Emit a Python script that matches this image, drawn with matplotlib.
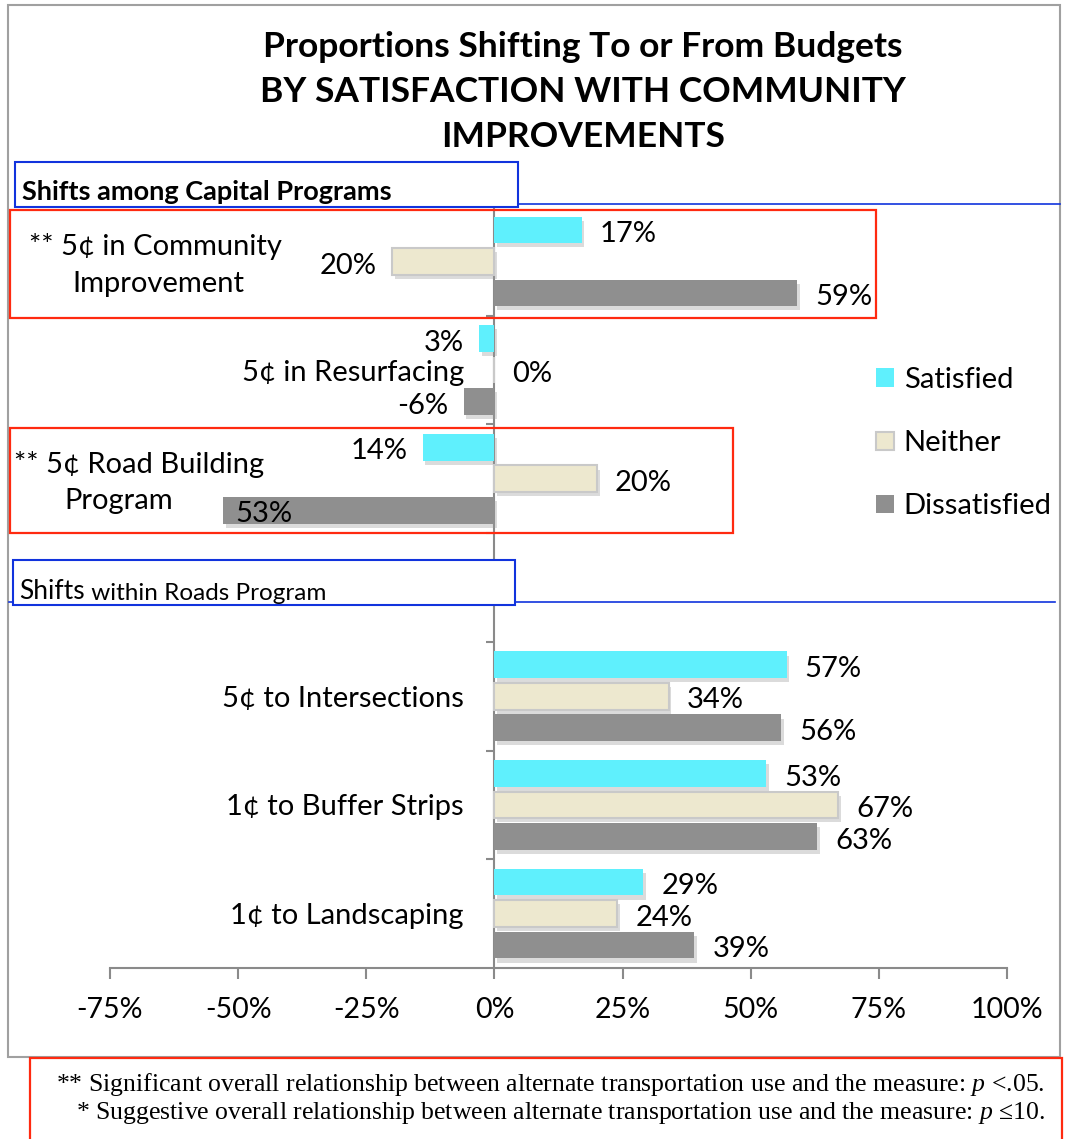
import numpy as np
import matplotlib
matplotlib.use("Agg")
import matplotlib.pyplot as plt
import matplotlib.patheffects as pe
import matplotlib.transforms as mtransforms
from matplotlib.patches import Rectangle, Patch
from matplotlib.lines import Line2D

plt.rcParams['font.family'] = ['Lato', 'DejaVu Sans']
plt.rcParams['mathtext.fontset'] = 'custom'
plt.rcParams['mathtext.it'] = 'Liberation Serif:italic'
plt.rcParams['mathtext.rm'] = 'Liberation Serif'

categories = ['** 5¢ in Community\nImprovement', '5¢ in Resurfacing',
              '** 5¢ Road Building\nProgram', '',
              '5¢ to Intersections', '1¢ to Buffer Strips', '1¢ to Landscaping']
satisfied = [17, -3, -14, np.nan, 57, 53, 29]
neither = [-20, 0, 20, np.nan, 34, 67, 24]
dissatisfied = [59, -6, -53, np.nan, 56, 63, 39]
satisfied_labels = ['17%', '3%', '14%', '', '57%', '53%', '29%']
neither_labels = ['20%', '0%', '20%', '', '34%', '67%', '24%']
dissatisfied_labels = ['59%', '-6%', '53%', '', '56%', '63%', '39%']
series_names = ['Satisfied', 'Neither', 'Dissatisfied']
xticks = [-75, -50, -25, 0, 25, 50, 75, 100]

W, H = 1065, 1139
FS = 21


def fx(x):
    return x / W


def fy(y):
    return 1 - y / H


fig = plt.figure(figsize=(W / 100, H / 100), dpi=100)
ax = fig.add_axes([fx(110), fy(968), fx(1007) - fx(110), fy(207) - fy(968)])

pos = np.arange(len(categories))
styles = [
    dict(color='#5ff0fd', edgecolor='none'),
    dict(color='#ede8cf', edgecolor='#c9c9c9', linewidth=1.5),
    dict(color='#8f8f8f', edgecolor='none'),
]
offsets = [-0.29, 0.0, 0.29]
shadow = [pe.SimplePatchShadow(offset=(2, -3), shadow_rgbFace='#9a9a9a', alpha=0.35), pe.Normal()]

for vals, labs, st, off in zip([satisfied, neither, dissatisfied],
                               [satisfied_labels, neither_labels, dissatisfied_labels],
                               styles, offsets):
    vals = np.array(vals, dtype=float)
    ok = ~np.isnan(vals)
    bars = ax.barh(pos[ok] + off, vals[ok], height=0.245, zorder=3, **st)
    for b in bars:
        b.set_path_effects(shadow)
    for y, v, t in zip(pos[ok], vals[ok], np.array(labs)[ok]):
        if v >= 0:
            xt, ha = 13, 'left'
        elif v > -40:
            xt, ha = -11, 'right'
        else:
            xt, ha = 9, 'left'
        ax.annotate(t, (v, y + off), xytext=(xt, -3), textcoords='offset points',
                    ha=ha, va='center', fontsize=FS, zorder=5)

ax.set_xlim(-75, 100)
ax.set_ylim(len(categories) - 0.5, -0.5)

axis_grey = '#8a8a8a'
for s in ['top', 'right']:
    ax.spines[s].set_visible(False)
ax.spines['left'].set_position(('data', 0))
ax.spines['left'].set_color(axis_grey)
ax.spines['left'].set_linewidth(1.5)
ax.spines['bottom'].set_color(axis_grey)
ax.spines['bottom'].set_linewidth(1.5)

ax.set_xticks(xticks)
ax.set_xticklabels([f'{t}%' for t in xticks], fontsize=20.5)
ax.tick_params(axis='x', length=8, width=1.5, color=axis_grey, pad=13)

ax.set_yticks(pos[:-1] + 0.5)
ax.set_yticklabels([])
ax.tick_params(axis='y', which='major', length=6, width=1.5, color=axis_grey)
ax.set_yticks(pos, minor=True)
ax.set_yticklabels([c if not c.startswith('**') else '' for c in categories], minor=True, fontsize=FS)
ax.tick_params(axis='y', which='minor', length=0, pad=22)

# starred category labels sit further left, one text per line
tr = mtransforms.blended_transform_factory(fig.transFigure, ax.transData)
for idx, centres in [(0, (155, 158)), (2, (139, 119))]:
    lines = categories[idx].split('\n')
    for k, (line, cx) in enumerate(zip(lines, centres)):
        ax.text(fx(cx), idx + 0.035 + (k - 0.5) * 0.34, line, transform=tr,
                ha='center', va='center', fontsize=FS)

# title
fig.text(fx(583), fy(92), 'Proportions Shifting To or From Budgets\nBY SATISFACTION WITH COMMUNITY\nIMPROVEMENTS',
         ha='center', va='center', fontsize=25.5, fontweight='bold', linespacing=1.5)

# legend
handles = [Patch(facecolor=styles[0]['color'], edgecolor='none'),
           Patch(facecolor=styles[1]['color'], edgecolor='#c9c9c9', linewidth=1.5),
           Patch(facecolor=styles[2]['color'], edgecolor='none')]
fig.legend(handles, series_names, loc='upper left', bbox_to_anchor=(fx(876), fy(367)),
           frameon=False, fontsize=FS, handlelength=0.6, handleheight=0.6,
           handletextpad=0.35, labelspacing=1.27, borderpad=0, borderaxespad=0)

# outer chart border
fig.add_artist(Rectangle((fx(8), fy(1057)), fx(1060) - fx(8), fy(5) - fy(1057),
                         fill=False, edgecolor='#a0a0a0', linewidth=1.5, zorder=6))

# section headers
blue = '#1133dd'
fig.add_artist(Line2D([fx(518), fx(1060)], [fy(204), fy(204)], color=blue, lw=1.2, zorder=6))
fig.add_artist(Rectangle((fx(15), fy(207)), fx(518) - fx(15), fy(162) - fy(207),
                         facecolor='white', edgecolor=blue, linewidth=1.5, zorder=7))
fig.text(fx(22), fy(192), 'Shifts among Capital Programs', ha='left', va='center',
         fontsize=19.5, fontweight='bold', zorder=8)

fig.add_artist(Line2D([fx(9), fx(1055)], [fy(602), fy(602)], color=blue, lw=1.2, zorder=6))
fig.add_artist(Rectangle((fx(13), fy(605)), fx(515) - fx(13), fy(560) - fy(605),
                         facecolor='white', edgecolor=blue, linewidth=1.5, zorder=7))
t1 = fig.text(fx(19), fy(604), 'Shifts', ha='left', va='bottom', fontsize=19, zorder=8)
fig.add_artist(plt.Annotation(' within Roads Program', xy=(1, 0), xycoords=t1,
                              ha='left', va='bottom', fontsize=17.5, zorder=8))

# significance boxes
red = '#ff2a10'
for x0, y0, x1, y1 in [(10, 210, 876, 318), (10, 428, 733, 533)]:
    fig.add_artist(Rectangle((fx(x0), fy(y1)), fx(x1) - fx(x0), fy(y0) - fy(y1),
                             fill=False, edgecolor=red, linewidth=1.6, zorder=7))

# footnote
fig.add_artist(Rectangle((fx(30), fy(1145)), fx(1062) - fx(30), fy(1058) - fy(1145),
                         fill=False, edgecolor=red, linewidth=1.6, zorder=7))
fig.text(fx(1045), fy(1085), '** Significant overall relationship between alternate transportation use and the measure: $p$ <.05.',
         ha='right', va='center', fontsize=18.5, family='Liberation Serif')
fig.text(fx(1045), fy(1113), '* Suggestive overall relationship between alternate transportation use and the measure: $p$ \u226410.',
         ha='right', va='center', fontsize=18.5, family='Liberation Serif')

fig.savefig('out.png', dpi=100)
